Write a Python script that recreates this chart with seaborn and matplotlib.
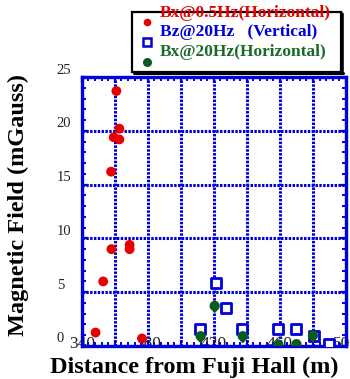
import numpy as np
import pandas as pd
import matplotlib
matplotlib.use("Agg")
import matplotlib.pyplot as plt
import matplotlib.transforms as mtransforms
from matplotlib.path import Path
from matplotlib.lines import Line2D
from matplotlib.patches import Rectangle
from matplotlib.ticker import MultipleLocator
import seaborn as sns

# ---- data ----
red_x = [348.4, 353.0, 358.0, 369.0, 369.0, 376.5, 361.0, 362.8, 359.4, 362.8, 357.8]
red_y = [1.25, 6.0, 9.0, 9.4, 9.0, 0.7, 23.7, 20.2, 19.4, 19.2, 16.2]
blue_x = [421.3, 427.5, 411.7, 437.0, 459.0, 470.0, 480.5, 489.5]
blue_y = [5.9, 3.56, 1.62, 1.62, 1.62, 1.62, 0.94, 0.2]
green_x = [420.5, 412.0, 437.5, 459.0, 470.0, 480.0]
green_y = [3.65, 0.84, 0.84, 0.07, 0.1, 0.9]
series_names = ["Bx@0.5Hz(Horizontal)", "Bz@20Hz   (Vertical)", "Bx@20Hz(Horizontal)"]
x_ticks = [340, 360, 380, 400, 420, 440, 460, 480, 500]
x_ticklabels = ["340", "", "380", "", "420", "", "460", "", "500"]
y_ticks = [0, 5, 10, 15, 20, 25]
y_ticklabels = ["0", "5", "10", "15", "20", "25"]

RED = "#e60000"
BLUE = "#0000dd"
GREEN = "#0a5c1e"
GREEN_T = "#1a6b2a"

df = pd.concat([
    pd.DataFrame({"x": red_x, "y": red_y, "s": series_names[0]}),
    pd.DataFrame({"x": blue_x, "y": blue_y, "s": series_names[1]}),
    pd.DataFrame({"x": green_x, "y": green_y, "s": series_names[2]}),
], ignore_index=True)

sns.set_style("white")
plt.rcParams["font.family"] = ["Liberation Serif", "DejaVu Serif"]

# teardrop marker for the green series
th = np.linspace(np.deg2rad(-35), np.deg2rad(215), 40)
verts = [(np.cos(t), np.sin(t) + 0.15) for t in th] + [(0.0, -1.25), (np.cos(th[0]), np.sin(th[0]) + 0.15)]
drop = Path(verts, [Path.MOVETO] + [Path.LINETO] * (len(verts) - 2) + [Path.CLOSEPOLY])

fig = plt.figure(figsize=(3.5, 3.79), dpi=100)
ax = fig.add_axes([0.2334, 0.0871, 0.7552, 0.7097])

sns.scatterplot(data=df[df.s == series_names[0]], x="x", y="y", ax=ax,
                color=RED, marker="o", s=50, edgecolor="none", legend=False, zorder=3)
sns.scatterplot(data=df[df.s == series_names[1]], x="x", y="y", ax=ax,
                marker="s", s=42, facecolor="white", edgecolor=BLUE, linewidth=2.0,
                legend=False, zorder=3)
sns.scatterplot(data=df[df.s == series_names[2]], x="x", y="y", ax=ax,
                color=GREEN, marker=drop, s=85, edgecolor="none", legend=False, zorder=4)

ax.set_xlim(340, 500)
ax.set_ylim(0, 25)
ax.set_xticks(x_ticks)
ax.set_xticklabels(x_ticklabels)
ax.set_yticks(y_ticks)
ax.set_yticklabels(y_ticklabels)
ax.xaxis.set_minor_locator(MultipleLocator(4))
ax.yaxis.set_minor_locator(MultipleLocator(1))

ax.grid(True, which="major", color=BLUE, linestyle=(0, (0.8, 0.45)), linewidth=2.2, zorder=1)
ax.set_axisbelow(True)
for sp in ax.spines.values():
    sp.set_color(BLUE)
    sp.set_linewidth(2.4)
    sp.set_visible(True)

ax.tick_params(which="both", direction="in", top=True, right=True, bottom=True, left=True,
               color=BLUE)
ax.tick_params(which="major", length=4.5, width=1.6)
ax.tick_params(which="minor", length=2.8, width=1.4)
ax.tick_params(axis="x", which="major", labelsize=12.5, pad=-7.5, labelcolor="#222222")
ax.tick_params(axis="y", which="major", labelsize=10.5, pad=18, labelcolor="#222222")
for lab in ax.get_yticklabels():
    lab.set_horizontalalignment("left")
off = mtransforms.ScaledTranslation(0, 0.085, fig.dpi_scale_trans)
for lab in ax.get_yticklabels():
    lab.set_transform(lab.get_transform() + off)

ax.set_xlabel("")
ax.set_ylabel("")
fig.text(194 / 350, 1 - 367 / 379, "Distance from Fuji Hall (m)", ha="center", va="center",
         fontsize=17.5, fontweight="bold", color="black")
fig.text(18 / 350, 1 - 205 / 379, "Magnetic Field (mGauss)", ha="center", va="center",
         rotation=90, fontsize=17.5, fontweight="bold", color="black")

# ---- legend box (drawn manually to mimic the original) ----
W, H = 350, 379
def fx(px):
    return px / W
def fy(py):
    return 1 - py / H

fig.patches.append(Rectangle((fx(132), fy(72)), fx(341) - fx(132), fy(12) - fy(72),
                             transform=fig.transFigure, facecolor="white",
                             edgecolor="black", linewidth=1.6, zorder=5))
fig.lines.append(Line2D([fx(342), fx(342)], [fy(73), fy(14)], transform=fig.transFigure,
                        color="black", linewidth=2.6, zorder=6))
fig.lines.append(Line2D([fx(134), fx(343)], [fy(73), fy(73)], transform=fig.transFigure,
                        color="black", linewidth=2.2, zorder=6))
fig.lines.append(Line2D([fx(147)], [fy(22)], transform=fig.transFigure, marker="o",
                        markersize=5.5, color=RED, markeredgecolor="none", zorder=7))
fig.lines.append(Line2D([fx(147)], [fy(42)], transform=fig.transFigure, marker="s",
                        markersize=5.5, markerfacecolor="white", markeredgecolor=BLUE,
                        markeredgewidth=1.8, zorder=7))
fig.lines.append(Line2D([fx(147)], [fy(62)], transform=fig.transFigure, marker="o",
                        markersize=6.5, color=GREEN, markeredgecolor="none", zorder=7))
for name, col, py in zip(series_names, [RED, BLUE, GREEN_T], [13, 32, 52]):
    fig.text(fx(160), fy(py), name, ha="left", va="center", fontsize=12.5,
             fontweight="bold", color=col, zorder=8)

fig.savefig("out.png", dpi=100)
